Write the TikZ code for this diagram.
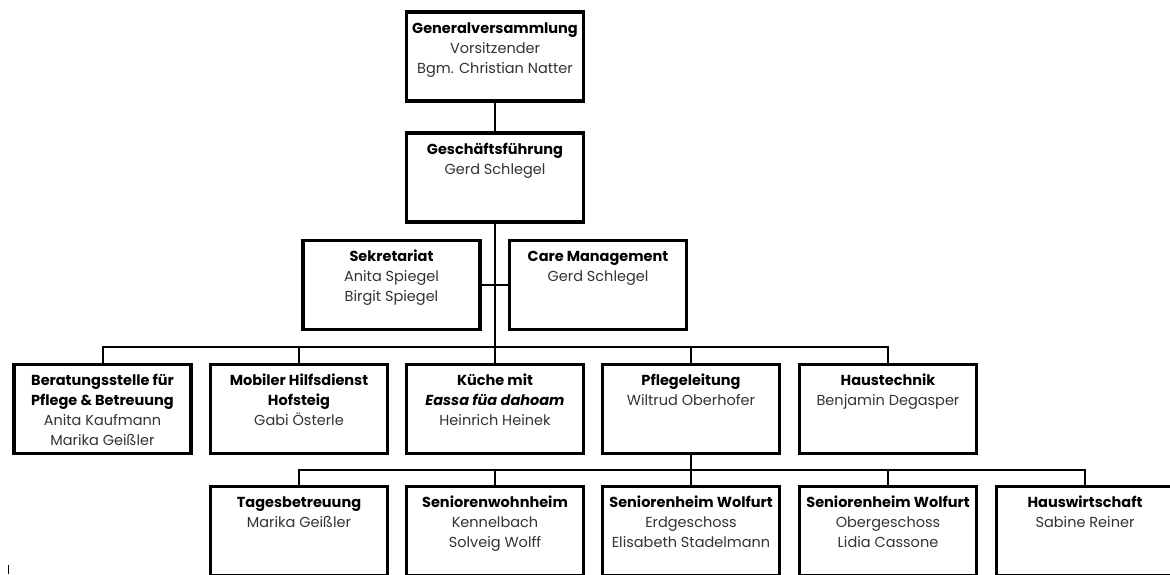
\documentclass[tikz,border=0pt]{standalone}
\usepackage{fontspec}
\setmainfont{Poppins}
\usepackage{tikz}

\definecolor{namegrey}{HTML}{333333}
\newcommand{\orgtext}[2]{\parbox[c][89pt][t]{177pt}{\centering\rule{0pt}{21pt}{\bfseries #1}\\{\color{namegrey}#2}}}

\begin{document}
\begin{tikzpicture}[x=1pt,y=-1pt]
	\clip (0,0) rectangle (1170,574);
	\fill[white] (0,0) rectangle (1170,574);

	\begin{scope}[every node/.style={draw,line width=3.5pt,inner sep=0pt,outer sep=0pt,
	              font=\fontsize{14.5}{20}\selectfont}]
		\node (gv) at (495,56.5) {\orgtext{Generalversammlung}{Vorsitzender\\Bgm. Christian Natter}};
		\node (gf) at (495,177.5) {\orgtext{Geschäftsführung}{Gerd Schlegel}};
		\node (sek) at (391.5,285) {\orgtext{Sekretariat}{Anita Spiegel\\Birgit Spiegel}};
		\node (care) at (598,285) {\orgtext{Care Management}{Gerd Schlegel}};

		\node (ber) at (102.5,409) {\orgtext{Beratungsstelle für\\Pflege \& Betreuung}{Anita Kaufmann\\Marika Geißler}};
		\node (mob) at (299,409) {\orgtext{Mobiler Hilfsdienst\\Hofsteig}{Gabi Österle}};
		\node (kue) at (495,409) {\orgtext{Küche mit\\\textit{Eassa füa dahoam}}{Heinrich Heinek}};
		\node (pfl) at (691,409) {\orgtext{Pflegeleitung}{Wiltrud Oberhofer}};
		\node (haus) at (888,409) {\orgtext{Haustechnik}{Benjamin Degasper}};

		\node (tag) at (299,531) {\orgtext{Tagesbetreuung}{Marika Geißler}};
		\node (swh) at (495,531) {\orgtext{Seniorenwohnheim}{Kennelbach\\Solveig Wolff}};
		\node (swe) at (691,531) {\orgtext{Seniorenheim Wolfurt}{Erdgeschoss\\Elisabeth Stadelmann}};
		\node (swo) at (888,531) {\orgtext{Seniorenheim Wolfurt}{Obergeschoss\\Lidia Cassone}};
		\node (hw) at (1085,531) {\orgtext{Hauswirtschaft}{Sabine Reiner}};
	\end{scope}

	\coordinate (bus1) at (495,347);
	\coordinate (bus2) at (691,470);

	\begin{scope}[every path/.style={draw=black,line width=2pt}]
		\path (gv) -- (gf);
		\path (gf) -- (bus1);
		\path (sek) -- (care);
		\foreach \n in {ber,mob,kue,pfl,haus}
			\path (\n.north) |- (bus1);
		\path (pfl) -- (bus2);
		\foreach \n in {tag,swh,swe,swo,hw}
			\path (\n.north) |- (bus2);
	\end{scope}

	\draw[line width=0.8pt] (8,565) -- (8,574);
\end{tikzpicture}
\end{document}
